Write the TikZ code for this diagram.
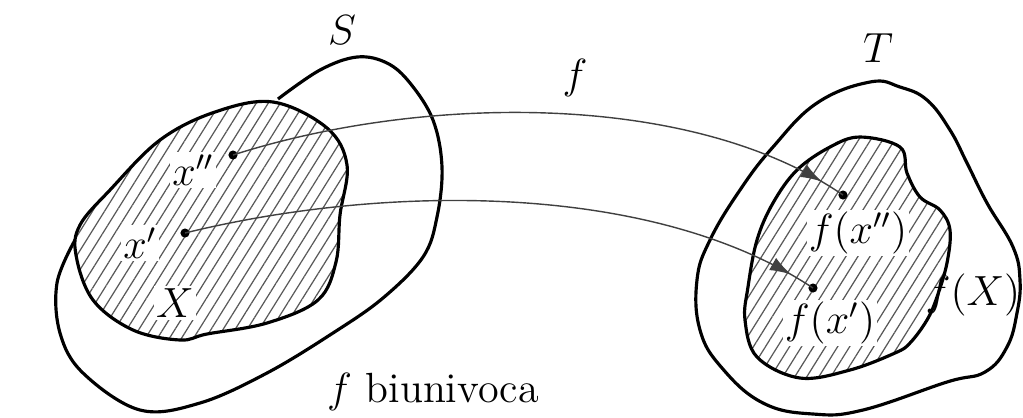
\documentclass[tikz,border=0pt]{standalone}
\usetikzlibrary{arrows.meta,patterns.meta,decorations.markings}

\begin{document}
\begin{tikzpicture}[x=0.01cm,y=-0.01cm,
  blob/.style={line width=0.9pt,line join=round},
  hatched/.style={blob,pattern={Lines[angle=58,distance=2.9pt,line width=0.35pt]},pattern color=black!65},
  pointdot/.style={circle,fill,inner sep=0pt,minimum size=2.6pt},
  mapline/.style={line width=0.4pt,draw=black!75,
    postaction={decorate,decoration={markings,mark=at position 0.96 with {\arrow{Latex[length=6pt,width=4pt]}}}}},
  lbl/.style={font=\fontsize{11.5}{13}\selectfont,inner sep=0.6pt},
  cutlbl/.style={lbl,fill=white}]
\useasboundingbox (0,0) rectangle (1023,417);
% insieme X e contorno di S
\draw[hatched] plot[smooth cycle,tension=0.6] coordinates {
  (273,102) (327,128) (347,165) (340,215) (336,262) (318,300) (267,323) (207,334)
  (180,340) (133,330) (93,300) (76,255) (80,225) (110,190) (160,140) (215,112)};
\draw[blob] plot[smooth,tension=0.6] coordinates {
  (75,240) (57,283) (60,333) (83,373) (140,410) (200,403) (267,373) (333,333)
  (383,298) (423,257) (437,217) (442,167) (433,120) (410,83) (387,63) (357,57)
  (320,70) (278,99)};
% insiemi T e f(X)
\draw[blob] plot[smooth cycle,tension=0.7] coordinates {
  (870,82) (900,87) (927,100) (950,130) (967,163) (987,203) (1013,247) (1020,280)
  (1017,313) (1007,347) (985,372) (947,382) (863,410) (813,414) (763,403)
  (722,368) (700,330) (697,280) (710,240) (740,190) (773,147) (817,103)};
\draw[hatched] plot[smooth cycle,tension=0.6] coordinates {
  (860,137) (900,147) (907,173) (920,197) (940,210) (950,230) (947,263) (937,297)
  (927,320) (910,343) (895,353) (850,370) (800,378) (757,357) (745,320) (748,287)
  (757,240) (773,203) (797,170) (830,147)};
% etichette
\node[lbl] (labS) at (342,30) {$S$};
\node[lbl] (labT) at (878,48) {$T$};
\node[lbl] (labf) at (575,78) {$f$};
\node[cutlbl] (labxpp) at (193,170) {$x''$};
\node[cutlbl] (labxp) at (140,243) {$x'$};
\node[cutlbl] (labX) at (175,303) {$X$};
\node[cutlbl] (labfxpp) at (858,233) {$f(x'')$};
\node[cutlbl] (labfxp) at (830,323) {$f(x')$};
\node[lbl] (labfX) at (973,295) {$f(X)$};
\node[lbl,font=\fontsize{12}{14}\selectfont] (labbiu) at (433,392) {$f$ biunivoca};
% punti e applicazione
\node[pointdot] (xpp) at (233,155) {};
\node[pointdot] (xp) at (185,233) {};
\node[pointdot] (fxpp) at (843,195) {};
\node[pointdot] (fxp) at (813,288) {};
\draw[mapline] (xpp.center) .. controls (420,95) and (690,90) .. (fxpp.center);
\draw[mapline] (xp.center) .. controls (380,185) and (650,180) .. (fxp.center);
\end{tikzpicture}
\end{document}
